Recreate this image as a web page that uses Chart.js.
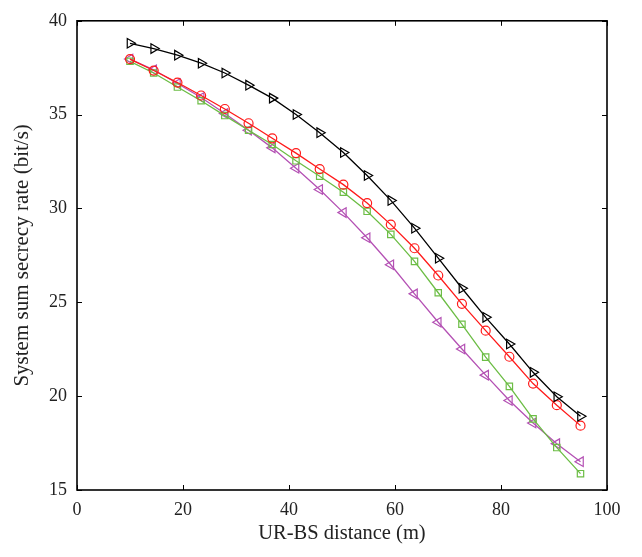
<!DOCTYPE html>
<html>
<head>
<meta charset="utf-8">
<script src="https://cdn.jsdelivr.net/npm/chart.js@4"></script>
<style>
    html, body { margin: 0; padding: 0; background: #fff; }
    #wrap { width: 642px; height: 557px; }
</style>
</head>
<body>
<div id="wrap"><canvas id="secrecy-chart" width="642" height="557"></canvas></div>
<script>
// UR-BS distance (m)
const distances = [10, 14.47, 18.95, 23.42, 27.89, 32.37, 36.84, 41.32, 45.79, 50.26,
    54.74, 59.21, 63.68, 68.16, 72.63, 77.11, 81.58, 86.05, 90.53, 95];

// system sum secrecy rate (bit/s), one array per curve
const blackRight = [38.80, 38.52, 38.17, 37.74, 37.22, 36.57, 35.88, 35.01, 34.04, 32.98,
    31.76, 30.43, 28.95, 27.35, 25.75, 24.20, 22.78, 21.27, 19.97, 18.93];
const redCircle = [37.96, 37.35, 36.71, 36.02, 35.30, 34.54, 33.74, 32.95, 32.10, 31.27,
    30.29, 29.14, 27.88, 26.43, 24.92, 23.49, 22.10, 20.67, 19.52, 18.43];
const greenSquare = [37.84, 37.22, 36.47, 35.74, 34.95, 34.17, 33.41, 32.54, 31.72, 30.87,
    29.85, 28.62, 27.18, 25.51, 23.83, 22.08, 20.52, 18.79, 17.26, 15.87];
const magentaLeft = [37.96, 37.39, 36.66, 35.91, 35.06, 34.17, 33.23, 32.14, 31.01, 29.78,
    28.44, 27.00, 25.45, 23.94, 22.51, 21.12, 19.77, 18.57, 17.47, 16.51];

const xTicks = [0, 20, 40, 60, 80, 100];
const yTicks = [15, 20, 25, 30, 35, 40];

const serif = "'Liberation Serif', 'DejaVu Serif', serif";

function series(label, values, color, style, rotation, radius) {
    return {
        label: label,
        data: values.map((v, i) => ({ x: distances[i], y: v })),
        borderColor: color,
        backgroundColor: 'rgba(0,0,0,0)',
        borderWidth: 1.3,
        pointStyle: style,
        pointRotation: rotation,
        pointRadius: radius,
        pointBorderWidth: 1.2,
        pointBorderColor: color,
        pointBackgroundColor: 'rgba(0,0,0,0)',
        tension: 0,
        fill: false
    };
}

// frame around the plot and inward ticks on every side
const frameTicks = {
    id: 'frameTicks',
    afterDatasetsDraw(chart) {
        const { ctx, chartArea: a, scales } = chart;
        const len = 5;
        ctx.save();
        ctx.strokeStyle = '#000';
        ctx.lineWidth = 1;
        xTicks.forEach(t => {
            const px = Math.round(scales.x.getPixelForValue(t)) + 0.5;
            ctx.beginPath();
            ctx.moveTo(px, a.bottom); ctx.lineTo(px, a.bottom - len);
            ctx.moveTo(px, a.top); ctx.lineTo(px, a.top + len);
            ctx.stroke();
        });
        yTicks.forEach(t => {
            const py = Math.round(scales.y.getPixelForValue(t)) + 0.5;
            ctx.beginPath();
            ctx.moveTo(a.left, py); ctx.lineTo(a.left + len, py);
            ctx.moveTo(a.right, py); ctx.lineTo(a.right - len, py);
            ctx.stroke();
        });
        ctx.lineWidth = 1.6;
        ctx.strokeRect(a.left, a.top, a.right - a.left, a.bottom - a.top);
        ctx.restore();
    }
};

new Chart(document.getElementById('secrecy-chart').getContext('2d'), {
    type: 'line',
    data: {
        datasets: [
            series('black', blackRight, '#000000', 'triangle', 90, 5.5),
            series('red', redCircle, '#ff1a1a', 'circle', 0, 4.5),
            series('green', greenSquare, '#6cbd45', 'rect', 0, 4.5),
            series('magenta', magentaLeft, '#b451b4', 'triangle', -90, 5.5)
        ]
    },
    options: {
        responsive: false,
        animation: false,
        layout: { padding: { top: 11, right: 35, left: 0, bottom: 0 } },
        plugins: {
            legend: { display: false },
            tooltip: { enabled: false }
        },
        scales: {
            x: {
                type: 'linear',
                min: 0,
                max: 100,
                afterBuildTicks: s => { s.ticks = xTicks.map(v => ({ value: v })); },
                afterFit: s => { s.height = 67; },
                grid: { display: false, drawTicks: false },
                border: { display: false },
                ticks: { color: '#222', font: { family: serif, size: 18 }, padding: 9, maxRotation: 0 },
                title: {
                    display: true,
                    text: 'UR-BS distance (m)',
                    color: '#222',
                    font: { family: serif, size: 20.5 },
                    padding: { top: 0, bottom: 11 }
                }
            },
            y: {
                min: 15,
                max: 40,
                afterBuildTicks: s => { s.ticks = yTicks.map(v => ({ value: v })); },
                afterFit: s => { s.width = 77; },
                grid: { display: false, drawTicks: false },
                border: { display: false },
                ticks: { color: '#222', font: { family: serif, size: 18 }, padding: 10 },
                title: {
                    display: true,
                    text: 'System sum secrecy rate (bit/s)',
                    color: '#222',
                    font: { family: serif, size: 21 },
                    padding: { top: 10, bottom: 0 }
                }
            }
        }
    },
    plugins: [frameTicks]
});
</script>
</body>
</html>
